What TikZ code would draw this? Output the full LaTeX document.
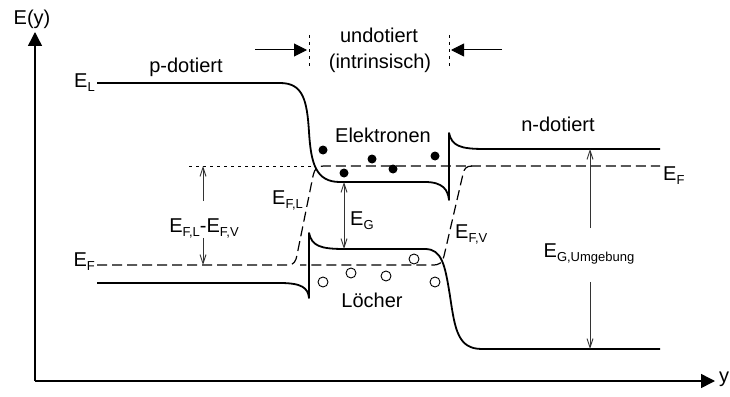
\documentclass[tikz,border=0pt]{standalone}
\usepackage{fontspec}
\setmainfont{Liberation Sans}
\usepackage{tikz}
\usetikzlibrary{arrows.meta}

\newcommand\idx[1]{\raisebox{-4pt}{\fontsize{13}{13}\selectfont #1}}

\begin{document}
\begin{tikzpicture}[x=1pt, y=-1pt,
    every node/.style={font=\fontsize{20}{24}\selectfont, inner sep=0pt},
    banda/.style={line width=1.8pt, line join=round},
    nivel/.style={line width=1.2pt, dash pattern=on 10pt off 5pt},
    punteado/.style={line width=1pt, dash pattern=on 3pt off 4pt},
    cota/.style={line width=0.9pt, black!80, -{Straight Barb[length=9pt,width=6pt]}},
    cotadoble/.style={line width=0.9pt, black!80,
      {Straight Barb[length=9pt,width=6pt]}-{Straight Barb[length=9pt,width=6pt]}},
    eje/.style={line width=1.5pt, -{Triangle[length=14pt,width=14pt]}},
    flecha/.style={line width=1pt, -{Triangle[length=13pt,width=13pt]}}]

    \useasboundingbox (0,0) rectangle (730,396);

    % Ejes
    \coordinate (origen) at (35,381);
    \coordinate (ejeY)   at (35,32);
    \coordinate (ejeX)   at (715,381);
    \draw[eje] (origen) -- (ejeY);
    \draw[eje] (origen) -- (ejeX);
    \node[anchor=base] (lblE) at (32,25) {E(y)};
    \node[anchor=base west] (lblY) at (719,382) {y};

    % Banda de conduccion (con pico a la derecha)
    \draw[banda] (97,83) -- (280,83)
      .. controls (303,83) and (307,100) .. (309,132)
      .. controls (311,164) and (316,182) .. (340,182) -- (425,182)
      .. controls (443,182) and (448,190) .. (449,200) -- (449,133)
      .. controls (452,146) and (460,149) .. (485,149) -- (660,149);

    % Banda de valencia (con pico a la izquierda)
    \draw[banda] (97,283) -- (280,283)
      .. controls (302,283) and (308,288) .. (309,298) -- (309,233)
      .. controls (312,246) and (320,249) .. (345,249) -- (425,249)
      .. controls (442,249) and (445,265) .. (450,296)
      .. controls (455,330) and (458,349) .. (482,349) -- (660,349);

    % Niveles de Fermi (cuasi-niveles en la zona intrinseca)
    \draw[nivel] (97,265) -- (288,265)
      .. controls (294,265) and (296,261) .. (297,255) -- (313,176)
      .. controls (315,168) and (317,166) .. (324,166) -- (660,166);
    \draw[nivel] (472,166)
      .. controls (466,166) and (464,169) .. (463,174) -- (444,256)
      .. controls (442,263) and (440,265) .. (432,265) -- (300,265);
    \draw[punteado] (189,166) -- (316,166);

    % Limites de la zona no dopada
    \draw[punteado] (309,35) -- (309,68);
    \draw[punteado] (449,35) -- (449,68);
    \coordinate (limIzq) at (307,50);
    \coordinate (limDer) at (451,50);
    \coordinate (inicioIzq) at (255,50);
    \coordinate (inicioDer) at (502,50);
    \draw[flecha] (inicioIzq) -- (limIzq);
    \draw[flecha] (inicioDer) -- (limDer);
    \node[anchor=base] (lblUndot) at (379,43) {undotiert};
    \node[anchor=base] (lblIntr)  at (380,68) {(intrinsisch)};

    % Titulos de las zonas
    \node[anchor=base] (lblP) at (186,72)  {p-dotiert};
    \node[anchor=base] (lblN) at (558,131) {n-dotiert};

    % Etiquetas de niveles
    \node[anchor=base east] (lblEL)  at (95,87)   {E\idx{L}};
    \node[anchor=base east] (lblEFp) at (95,266)  {E\idx{F}};
    \node[anchor=base west] (lblEFn) at (663,180) {E\idx{F}};
    \node[anchor=base west] (lblEFL) at (272,204) {E\idx{F,L}};
    \node[anchor=base west] (lblEFV) at (455,238) {E\idx{F,V}};

    % Cotas
    \coordinate (difArriba) at (203,166);
    \coordinate (difAbajo)  at (203,265);
    \node[anchor=base] (lblDif) at (204,232) {E\idx{F,L}-E\idx{F,V}};
    \draw[cota, shorten <=17pt] (lblDif.north -| difArriba) -- (difArriba);
    \draw[cota] (lblDif.south -| difAbajo) -- (difAbajo);

    \coordinate (egArriba) at (344,182);
    \coordinate (egAbajo)  at (344,249);
    \draw[cotadoble] (egArriba) -- (egAbajo);
    \node[anchor=base west] (lblEG) at (350,225) {E\idx{G}};

    \coordinate (eguArriba) at (590,149);
    \coordinate (eguAbajo)  at (590,349);
    \node[anchor=base] (lblEGU) at (589,257) {E\idx{G,Umgebung}};
    \draw[cota, shorten <=15pt] (lblEGU.north -| eguArriba) -- (eguArriba);
    \draw[cota, shorten <=18pt] (lblEGU.south -| eguAbajo) -- (eguAbajo);

    % Electrones
    \node[anchor=base] (lblElek) at (383,142) {Elektronen};
    \fill (323,150) circle (4.5pt);
    \fill (372,159) circle (4.5pt);
    \fill (344,173) circle (4.5pt);
    \fill (393,169) circle (4.5pt);
    \fill (435,156) circle (4.5pt);

    % Huecos
    \node[anchor=base] (lblLoch) at (372,307) {Löcher};
    \draw[line width=0.9pt] (323,282) circle (5pt);
    \draw[line width=0.9pt] (351,273) circle (5pt);
    \draw[line width=0.9pt] (386,276) circle (5pt);
    \draw[line width=0.9pt] (414,259) circle (5pt);
    \draw[line width=0.9pt] (435,282) circle (5pt);
  \end{tikzpicture}
\end{document}
